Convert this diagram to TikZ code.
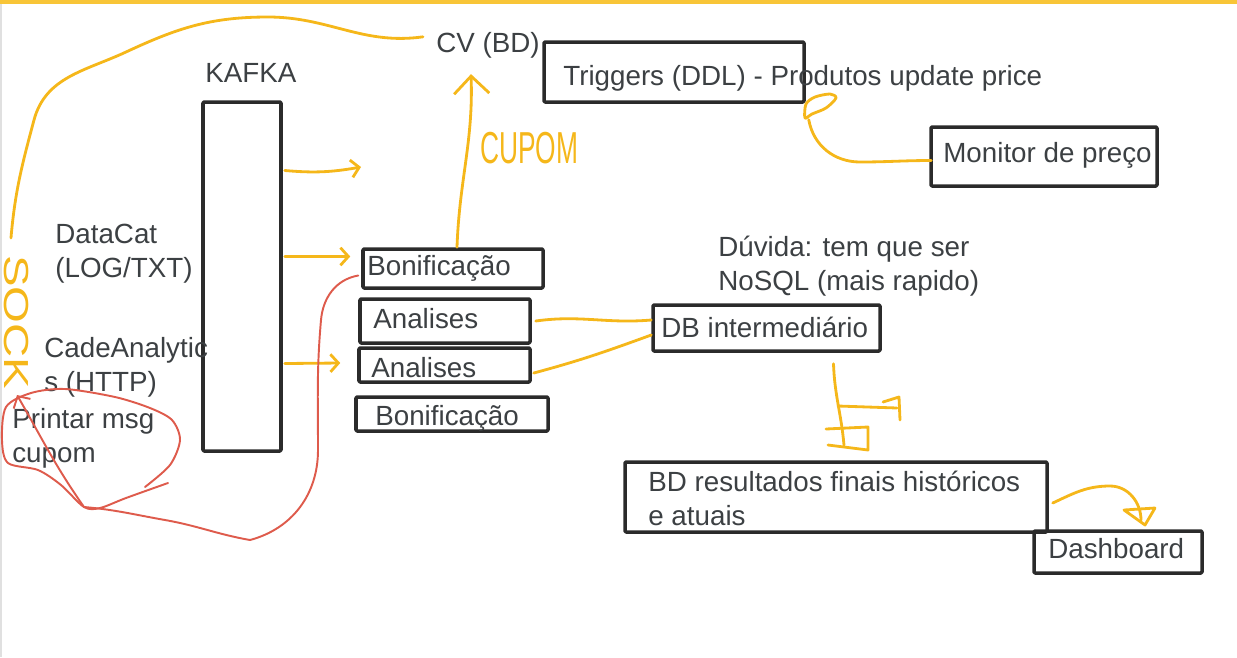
\documentclass[tikz,border=0pt]{standalone}
\usepackage{fontspec}
\setmainfont{Liberation Sans}
\usepackage{graphicx}
\usetikzlibrary{arrows.meta, fit}
\definecolor{txtgray}{HTML}{3C4043}
\definecolor{penyellow}{HTML}{F5B71A}
\definecolor{penred}{HTML}{DE5B4C}
\definecolor{baryellow}{HTML}{F8C537}
\definecolor{boxline}{HTML}{2B2B2B}

\begin{document}
\begin{tikzpicture}[x=0.02cm, y=-0.02cm, line cap=round, line join=round,
	lbl/.style={anchor=base west, inner sep=0pt, text=txtgray, align=left,
		font=\fontsize{15.8}{19}\selectfont},
	box/.style={draw=boxline, line width=2pt, rounded corners=0.6pt, inner sep=0pt},
	yel/.style={draw=penyellow, line width=1.6pt},
	redpen/.style={draw=penred, line width=1.1pt},
	barb/.style={-{Straight Barb[length=4.5pt, width=10pt, line width=1.6pt]}},
	hand/.style={inner sep=0pt, text=penyellow},
	]

\useasboundingbox (0,0) rectangle (1237,657);
\fill[baryellow] (0,0) rectangle (1237,4);
\fill[black!12] (0,4) rectangle (2,657);

% ==== sources and kafka ====
\node[lbl] (kafkalbl) at (205,82) {KAFKA};
\node[box, fit={(203,102) (281,451)}] (kafka) {};
\node[lbl] (datacat) at (55,277) {DataCat\\(LOG/TXT)};
\node[lbl] (cade) at (44,391) {CadeAnalytic\\s (HTTP)};
\node[lbl] (printar) at (12,462) {Printar msg\\cupom};

% ==== topics ====
\node[box, fit={(363,249) (543,288)}] (bon1) {};
\node[lbl] at (367,275) {Bonificação};
\node[box, fit={(360,299) (530,343)}] (an1) {};
\node[lbl] at (373,328) {Analises};
\node[box, fit={(359,348) (530,382)}] (an2) {};
\node[lbl] at (371,377) {Analises};
\node[box, fit={(356,397) (548,431)}] (bon2) {};
\node[lbl] at (375,425) {Bonificação};

% ==== databases ====
\node[lbl] (cv) at (436,52) {CV (BD)};
\node[box, fit={(544,42) (804,102)}] (trig) {};
\node[lbl] at (563,85) {Triggers (DDL) - Produtos update price};
\node[box, fit={(931,127) (1157,186)}] (monitor) {};
\node[lbl] at (943,162) {Monitor de preço};
\node[lbl] (duvida) at (718,290) {Dúvida: tem que ser\\NoSQL (mais rapido)};
\node[box, fit={(653,305) (880,351)}] (db) {};
\node[lbl] at (661,337) {DB intermediário};
\node[box, fit={(625,462) (1047,532)}] (bd) {};
\node[lbl] at (648,525) {BD resultados finais históricos\\e atuais};
\node[box, fit={(1034,531) (1202,573)}] (dash) {};
\node[lbl] at (1048,558) {Dashboard};

% handwritten notes
\node[hand, anchor=base west, font=\fontsize{15}{15}\selectfont] (cupom) at (480,163)
	{\scalebox{1}[1.7]{CUPOM}};
\node[hand, anchor=base west, rotate=-90, font=\fontsize{19.8}{20}\selectfont] (sock) at (5,255)
	{\scalebox{1.36}[1]{SOCK}};

% ==== yellow pen ====
\draw[yel] ([shift={(-13,-8)}]cv.west) to[out=188,in=0] (268,17)
	to[out=180,in=25] (126,52) to[out=205,in=75] (34,120)
	to[out=255,in=85] ([shift={(-6,-17)}]sock.west);
\coordinate (free) at (361,167);
\draw[yel, barb] ([shift={(2,-106)}]kafka.east) to[out=-5,in=190] (free);
\draw[yel, barb] ([shift={(2,-20)}]kafka.east) -- ([shift={(-11,-12)}]bon1.west);
\draw[yel, barb] ([shift={(2,87)}]kafka.east) -- ([shift={(-17,-2)}]an2.west);
\draw[yel, -{Straight Barb[length=10pt, width=20pt, line width=1.6pt]}]
	([shift={(4,0)}]bon1.north) to[out=88,in=-88] ([shift={(-17,16)}]cv.south);

\draw[yel] ([shift={(2,4)}]monitor.west) to[out=180,in=0] (860,162)
	to[out=180,in=280] ([shift={(3,16)}]trig.south east);
\draw[yel] plot[smooth cycle] coordinates {(805,118) (806,104) (815,97) (830,94) (836,98) (826,108) (812,114)};

\draw[yel] ([shift={(4,0)}]an1.east) to[out=8,in=185] ([shift={(0,-8)}]db.west);
\draw[yel] ([shift={(2,8)}]an2.east) to[out=15,in=200] ([shift={(0,7)}]db.west);

\draw[yel] ([shift={(67,11)}]db.south) to[out=-88,in=95] ([shift={(8,-15)}]bd.north);
\draw[yel] (838,406) -- (897,408);
\draw[yel] (883,402) -- (899,397) -- (900,420);
\draw[yel] (826,429) -- (868,427) -- (868,450) -- (828,445);

\draw[yel] ([shift={(4,6)}]bd.east) to[out=25,in=180] (1110,486)
	to[out=0,in=90] ([shift={(23,-9)}]dash.north);
\draw[yel] (1124,510) -- (1155,508) -- (1145,525) -- cycle;

% ==== red pen ====
\draw[redpen, -{Straight Barb[length=5pt, width=11pt, line width=1.1pt]}]
	([shift={(-3,7)}]bon1.west) to[out=190,in=85] (321,320)
	to[out=-95,in=90] (318,450) to[out=-90,in=15] (250,540)
	to[out=170,in=-10] (165,520) to[out=170,in=-5] (84,507)
	to[out=125,in=-60] (17,395);
\draw[redpen] plot[smooth] coordinates {(145,487) (170,465) (180,440) (172,420) (150,408)
	(115,397) (65,389) (31,393) (6,407) (2,440) (8,463) (38,470) (61,485) (84,507)
	(100,508) (126,498) (168,483)};

\end{tikzpicture}
\end{document}
